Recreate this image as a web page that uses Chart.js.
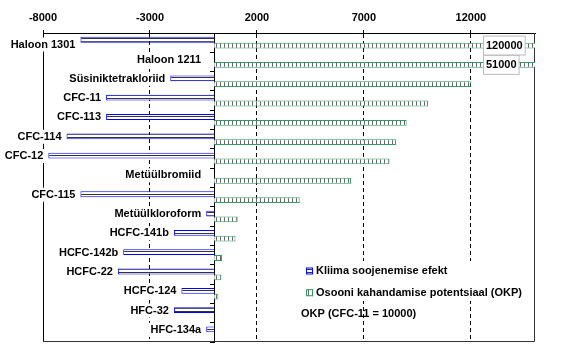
<!DOCTYPE html>
<html>
<head>
<meta charset="utf-8">
<script src="https://cdn.jsdelivr.net/npm/chart.js@4"></script>
<style>
  html, body { margin: 0; padding: 0; background: #fff; }
</style>
</head>
<body>
<canvas id="chart" width="575" height="354"></canvas>
<script>
const categories = ['Haloon 1301', 'Haloon 1211', 'Süsiniktetrakloriid', 'CFC-11', 'CFC-113', 'CFC-114', 'CFC-12',
  'Metüülbromiid', 'CFC-115', 'Metüülkloroform', 'HCFC-141b', 'HCFC-142b', 'HCFC-22', 'HCFC-124', 'HFC-32', 'HFC-134a'];
const kliimaEfekt = [-6250, null, -2050, -5050, -5050, -6900, -7750, null, -6250, -370, -1880, -4250, -4500, -1530, -1880, -370];
const okp = [120000, 51000, 12000, 10000, 9000, 8500, 8200, 6400, 4000, 1100, 1000, 370, 340, 200, null, null];
const xTicks = [-8000, -3000, 2000, 7000, 12000];
const seriesNames = ['Kliima soojenemise efekt', 'Osooni kahandamise potentsiaal (OKP)'];
const note = 'OKP (CFC-11 = 10000)';

const FONT = '"Liberation Sans", Arial, sans-serif';
const ctx = document.getElementById('chart').getContext('2d');

// small fill patterns like the old excel hatch fills
function makePattern(w, h, paint) {
  const c = document.createElement('canvas');
  c.width = w; c.height = h;
  const g = c.getContext('2d');
  g.fillStyle = '#fff';
  g.fillRect(0, 0, w, h);
  paint(g);
  return ctx.createPattern(c, 'repeat');
}
const hStripes = makePattern(1, 3, g => { g.fillStyle = '#333'; g.fillRect(0, 2, 1, 1); });
const vStripes = makePattern(4, 1, g => { g.fillStyle = '#666'; g.fillRect(0, 0, 1, 1); });

const framePlugin = {
  id: 'frame',
  beforeDatasetsDraw(chart) {
    const {left, right, top, bottom} = chart.chartArea;
    const c = chart.ctx;
    c.save();
    c.lineWidth = 1;
    c.strokeStyle = '#000';
    c.beginPath();
    c.moveTo(left + 0.5, top);
    c.lineTo(left + 0.5, bottom);
    c.stroke();
    c.strokeStyle = '#333';
    c.beginPath();
    c.moveTo(left, bottom - 0.5);
    c.lineTo(right - 0.5, bottom - 0.5);
    c.lineTo(right - 0.5, top);
    c.stroke();
    // legend background hides the grid lines behind it
    c.fillStyle = '#fff';
    c.fillRect(302, 261, 221, 40);
    c.restore();
  }
};

const labelPlugin = {
  id: 'barLabels',
  afterDatasetsDraw(chart) {
    const c = chart.ctx;
    const {x, y} = chart.scales;
    const top = chart.chartArea.top;
    c.save();
    c.font = 'bold 11px ' + FONT;
    c.textBaseline = 'middle';
    c.textAlign = 'right';
    categories.forEach((name, i) => {
      const v = kliimaEfekt[i];
      const end = v == null ? x.getPixelForValue(0) - 8 : x.getPixelForValue(v);
      const r = end - 5;
      const cy = Math.max(y.getPixelForValue(i) - 2.5, top + 11.5);
      const w = c.measureText(name).width;
      c.fillStyle = '#fff';
      c.fillRect(r - w - 2, cy - 7, w + 4, 14);
      c.fillStyle = '#000';
      c.fillText(name, r, cy);
    });
    // values that run off the scale get a boxed label
    c.textAlign = 'left';
    const bars = chart.getDatasetMeta(1).data;
    okp.forEach((v, i) => {
      if (v == null || v <= x.max) return;
      const txt = String(v);
      const w = c.measureText(txt).width;
      const bx = chart.chartArea.right - 51.5;
      const cy = bars[i].y;
      c.fillStyle = '#fff';
      c.fillRect(bx, cy - 9.5, w + 5, 19);
      c.strokeStyle = '#bbb';
      c.lineWidth = 1;
      c.strokeRect(bx, cy - 9.5, w + 5, 19);
      c.fillStyle = '#000';
      c.fillText(txt, bx + 2.5, cy + 0.5);
    });
    c.restore();
  }
};

const legendPlugin = {
  id: 'innerLegend',
  afterDraw(chart) {
    const c = chart.ctx;
    c.save();
    c.font = 'bold 11px ' + FONT;
    c.textBaseline = 'middle';
    c.textAlign = 'left';
    chart.data.datasets.forEach((ds, k) => {
      const sy = 271 + k * 21.7;
      c.fillStyle = ds.backgroundColor;
      c.fillRect(306, sy - 3.5, 7, 7);
      c.strokeStyle = ds.borderColor;
      c.lineWidth = 1;
      c.strokeRect(306.5, sy - 3, 6, 6);
      c.fillStyle = '#000';
      c.fillText(ds.label, 316, sy);
    });
    c.fillText(note, 301, 314);
    c.restore();
  }
};

new Chart(ctx, {
  type: 'bar',
  data: {
    labels: categories,
    datasets: [{
      label: seriesNames[0],
      data: kliimaEfekt,
      backgroundColor: hStripes,
      borderColor: '#0000ff',
      borderWidth: 1,
      barPercentage: 1,
      categoryPercentage: 0.6
    }, {
      label: seriesNames[1],
      data: okp,
      backgroundColor: vStripes,
      borderColor: '#339966',
      borderWidth: 1,
      barPercentage: 1,
      categoryPercentage: 0.6
    }]
  },
  options: {
    responsive: false,
    animation: false,
    indexAxis: 'y',
    layout: { padding: { left: 43, right: 40, top: 0, bottom: 12 } },
    plugins: {
      legend: { display: false },
      tooltip: { enabled: false }
    },
    scales: {
      x: {
        position: 'top',
        min: -8000,
        max: 15000,
        afterBuildTicks: s => { s.ticks = xTicks.map(v => ({ value: v })); },
        afterFit: s => { s.height = 33; },
        ticks: {
          color: '#000',
          padding: 5,
          font: { family: FONT, size: 11, weight: 'bold' },
          callback: v => String(v)
        },
        grid: {
          color: c => (c.tick && c.tick.value === -8000 ? 'rgba(0,0,0,0)' : '#000'),
          tickColor: '#000',
          tickLength: 3,
          lineWidth: 1
        },
        border: { color: '#000', dash: [4, 3] }
      },
      y: {
        position: { x: 0 },
        z: 1,
        ticks: { display: false },
        grid: { drawOnChartArea: false, tickLength: 4, tickColor: '#000', offset: true },
        border: { color: '#000' }
      }
    }
  },
  plugins: [framePlugin, labelPlugin, legendPlugin]
});
</script>
</body>
</html>
